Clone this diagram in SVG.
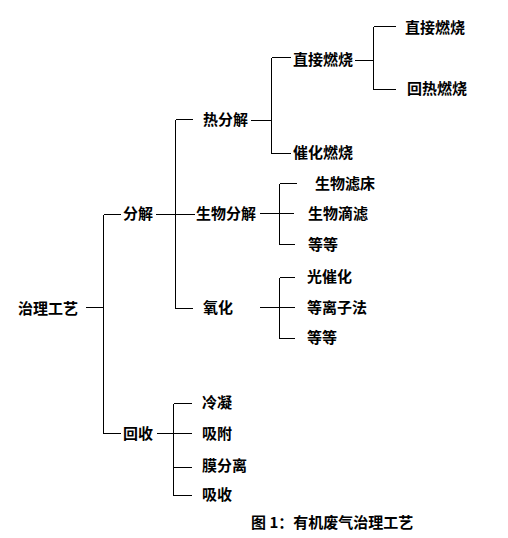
<svg xmlns="http://www.w3.org/2000/svg" width="508" height="538" viewBox="0 0 508 538">
<style>
text{font-family:"Noto Sans CJK SC","Noto Sans CJK TC",sans-serif;font-size:15px;font-weight:bold;fill:#000}
.c line{stroke:#000;stroke-width:1;shape-rendering:crispEdges}
</style>
<rect width="508" height="538" fill="#fff"/>
<g class="c" id="connectors">
<line x1="86" y1="307.5" x2="103.5" y2="307.5"/>
<line x1="103.5" y1="214.5" x2="103.5" y2="433.5"/>
<line x1="103.5" y1="214.5" x2="121" y2="214.5"/>
<line x1="103.5" y1="433.5" x2="121" y2="433.5"/>
<line x1="156" y1="214.5" x2="195" y2="214.5"/>
<line x1="175.5" y1="119.5" x2="175.5" y2="308.5"/>
<line x1="175.5" y1="119.5" x2="193" y2="119.5"/>
<line x1="175.5" y1="308.5" x2="193" y2="308.5"/>
<line x1="251" y1="120.5" x2="271.5" y2="120.5"/>
<line x1="271.5" y1="57.5" x2="271.5" y2="153.5"/>
<line x1="271.5" y1="57.5" x2="291" y2="57.5"/>
<line x1="271.5" y1="153.5" x2="291" y2="153.5"/>
<line x1="355" y1="60.5" x2="373.5" y2="60.5"/>
<line x1="373.5" y1="26.5" x2="373.5" y2="89.5"/>
<line x1="373.5" y1="26.5" x2="396" y2="26.5"/>
<line x1="373.5" y1="89.5" x2="396" y2="89.5"/>
<line x1="260" y1="213.5" x2="294" y2="213.5"/>
<line x1="279.5" y1="183.5" x2="279.5" y2="244.5"/>
<line x1="279.5" y1="183.5" x2="297" y2="183.5"/>
<line x1="279.5" y1="244.5" x2="295" y2="244.5"/>
<line x1="260" y1="307.5" x2="295" y2="307.5"/>
<line x1="279.5" y1="277.5" x2="279.5" y2="338.5"/>
<line x1="279.5" y1="277.5" x2="295" y2="277.5"/>
<line x1="279.5" y1="338.5" x2="295" y2="338.5"/>
<line x1="157" y1="433.5" x2="192" y2="433.5"/>
<line x1="173.5" y1="403.5" x2="173.5" y2="495.5"/>
<line x1="173.5" y1="403.5" x2="192" y2="403.5"/>
<line x1="173.5" y1="467.5" x2="192" y2="467.5"/>
<line x1="173.5" y1="495.5" x2="192" y2="495.5"/>
</g>
<g id="n-root"><text x="18" y="313.5">治理工艺</text></g>
<g id="n-fenjie"><text x="123" y="218.5">分解</text></g>
<g id="n-huishou"><text x="123" y="438.5">回收</text></g>
<g id="n-refenjie"><text x="203" y="124.5">热分解</text></g>
<g id="n-shengwufenjie"><text x="196" y="218.5">生物分解</text></g>
<g id="n-yanghua"><text x="203" y="312.5">氧化</text></g>
<g id="n-zhijie1"><text x="293" y="64.5">直接燃烧</text></g>
<g id="n-cuihua"><text x="293" y="157.5">催化燃烧</text></g>
<g id="n-zhijie2"><text x="405" y="32.5">直接燃烧</text></g>
<g id="n-huire"><text x="407" y="93.5">回热燃烧</text></g>
<g id="n-lvchuang"><text x="315" y="188.5">生物滤床</text></g>
<g id="n-dilv"><text x="308" y="218.5">生物滴滤</text></g>
<g id="n-dengdeng1"><text x="308" y="249.5">等等</text></g>
<g id="n-guangcuihua"><text x="307" y="281.5">光催化</text></g>
<g id="n-dengliziti"><text x="307" y="312.5">等离子法</text></g>
<g id="n-dengdeng2"><text x="307" y="342.5">等等</text></g>
<g id="n-lengning"><text x="202" y="407.5">冷凝</text></g>
<g id="n-xifu"><text x="202" y="438.5">吸附</text></g>
<g id="n-mofenli"><text x="202" y="470.5">膜分离</text></g>
<g id="n-xishou"><text x="202" y="499.5">吸收</text></g>
<g id="caption"><text x="251" y="527.5">图 1：有机废气治理工艺</text></g>
</svg>
